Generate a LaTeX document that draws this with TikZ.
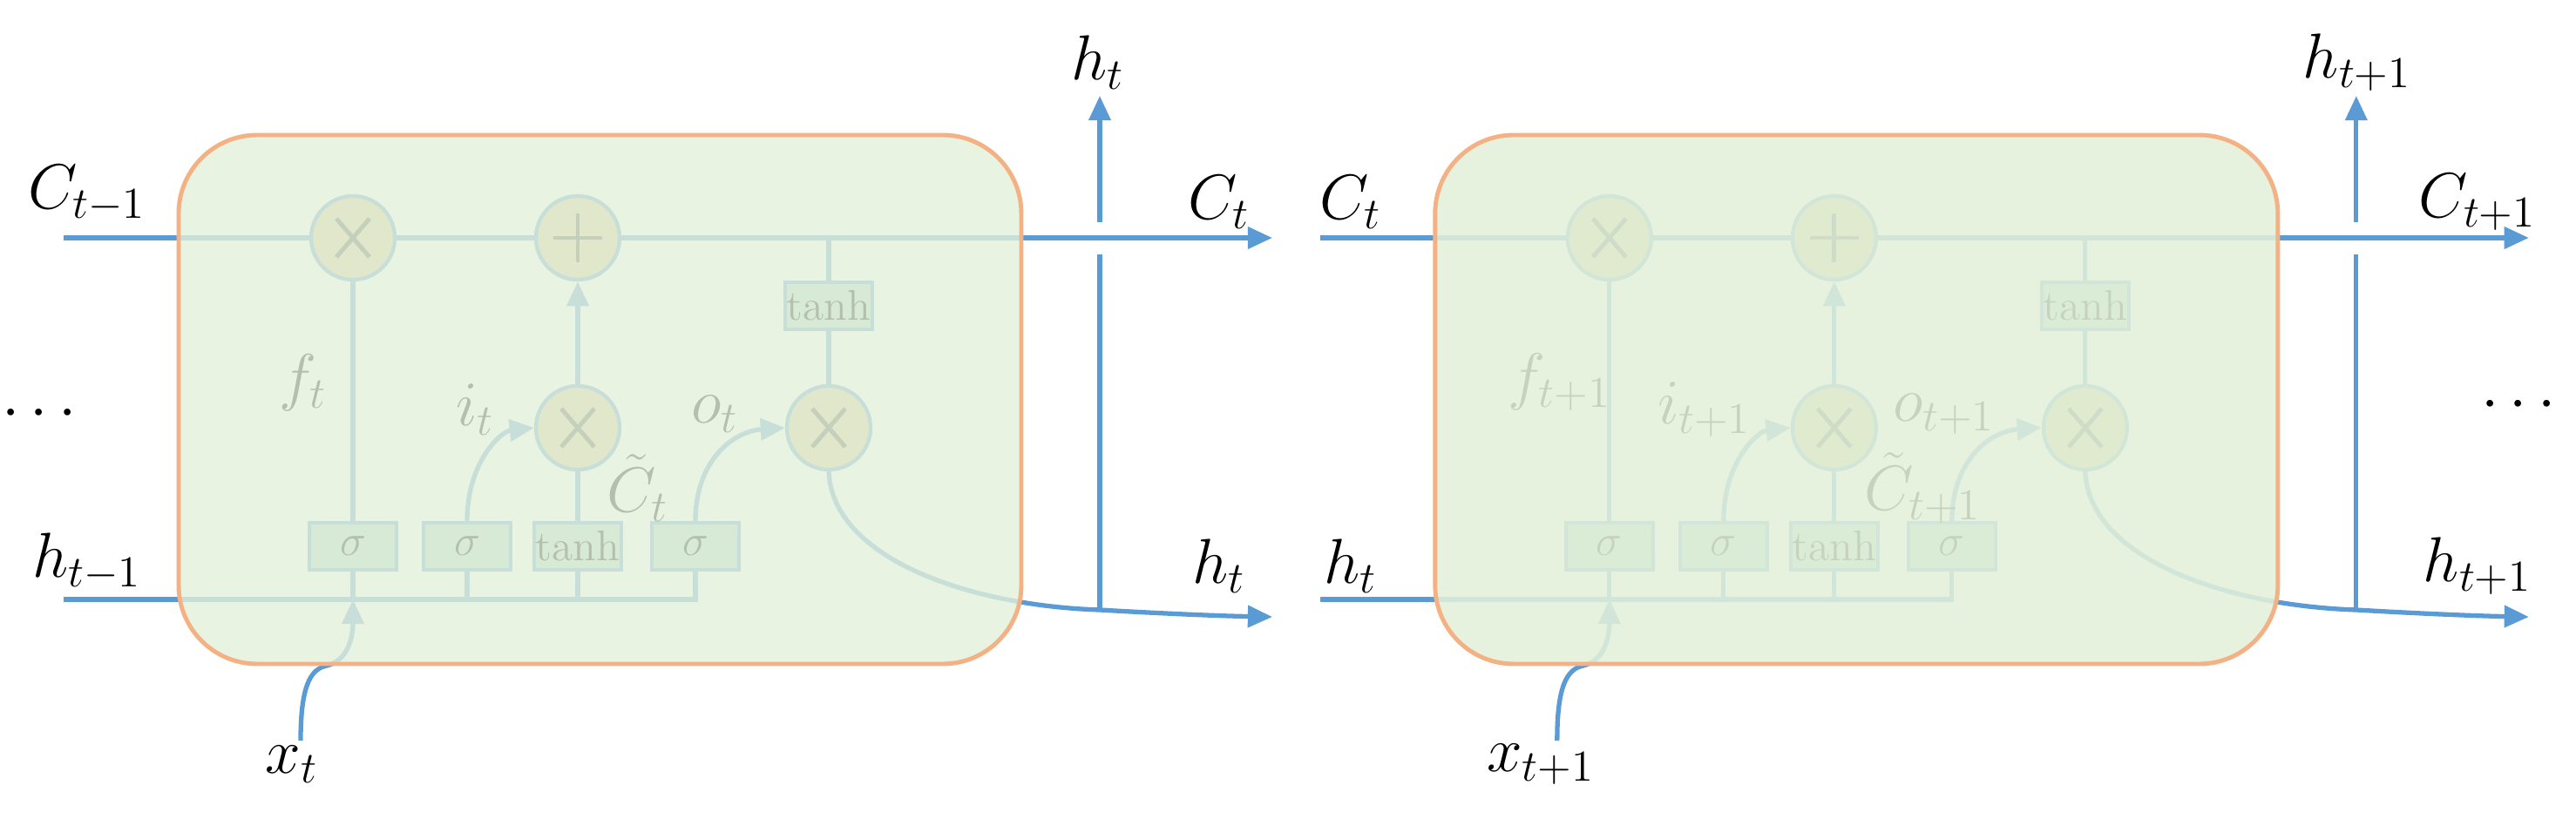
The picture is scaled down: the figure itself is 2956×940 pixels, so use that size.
\documentclass[tikz,border=0pt]{standalone}
\usetikzlibrary{arrows.meta}
\definecolor{lblue}{HTML}{5B9BD5}
\definecolor{lorange}{HTML}{F4B183}
\definecolor{lgreen}{HTML}{E2F0D9}
\definecolor{cfill}{HTML}{D8C48E}
\definecolor{bfill}{HTML}{A9D4C8}
\tikzset{
  bl/.style={draw=lblue,line width=1.5pt},
  arr/.style={-{Triangle[length=8pt,width=7pt]}},
  op/.style={circle,draw=lblue,line width=1.2pt,fill=cfill,minimum size=0.96cm,inner sep=0pt},
  gate/.style={rectangle,draw=lblue,line width=1.2pt,fill=bfill,minimum width=1cm,minimum height=0.54cm,inner sep=0pt,font=\fontsize{14}{16}\selectfont},
  lab/.style={font=\fontsize{22}{24}\selectfont},
  ilab/.style={font=\fontsize{21}{24}\selectfont},
}
% #1 shift, #2 opacity, #3 f, #4 i, #5 o, #6 Ctilde, #7 suffix, #8 ctilde x
\newcommand\lstmcell[8]{%
\begin{scope}[xshift=#1]
  \node[op] (m1#7) at (405,273) {};
  \node[op] (pl#7) at (663,273) {};
  \node[op] (m2#7) at (663,491) {};
  \node[op] (m3#7) at (951,491) {};
  \foreach \n in {m1#7,m2#7,m3#7} {\draw[black!70,line width=1.4pt] (\n.center)+(-19,-22)--+(19,22) (\n.center)+(-19,22)--+(19,-22);}
  \draw[black!70,line width=1.4pt] (pl#7.center)+(-28,0)--+(28,0) (pl#7.center)+(0,-28)--+(0,28);
  \node[gate] (th#7) at (951,351) {tanh};
  \node[gate] (s1#7) at (405,627) {$\sigma$};
  \node[gate] (s2#7) at (536,627) {$\sigma$};
  \node[gate] (t2#7) at (663,627) {tanh};
  \node[gate] (s3#7) at (798,627) {$\sigma$};
  \coordinate (cin#7) at (73,273);
  \coordinate (cout#7) at (1460,273);
  \coordinate (hin#7) at (73,688);
  \coordinate (hend#7) at (798,688);
  \coordinate (hout#7) at (1460,708);
  \coordinate (vb#7) at (1262,700);
  \coordinate (vg1#7) at (1262,292);
  \coordinate (vg2#7) at (1262,255);
  \coordinate (vt#7) at (1262,110);
  \coordinate (xs#7) at (345,850);
  \draw[bl] (cin#7)--(m1#7)--(pl#7);
  \draw[bl,arr] (pl#7)--(cout#7);
  \draw[bl] (hin#7)--(hend#7)--(s3#7);
  \draw[bl] (s1#7.south)--(s1#7.south|-hin#7) (s2#7.south)--(s2#7.south|-hin#7) (t2#7.south)--(t2#7.south|-hin#7);
  \draw[bl] (s1#7)--(m1#7);
  \draw[bl] (t2#7)--(m2#7);
  \draw[bl,arr] (m2#7)--(pl#7);
  \draw[bl] (th#7)--(th#7|-cin#7);
  \draw[bl] (th#7)--(m3#7);
  \draw[bl,arr] (s2#7.north) .. controls (536,530) and (575,495) .. (m2#7.west);
  \draw[bl,arr] (s3#7.north) .. controls (798,530) and (840,495) .. (m3#7.west);
  \draw[bl,arr] (xs#7) .. controls (345,790) and (355,768) .. (375,764) .. controls (400,758) and (405,730) .. (s1#7.south|-hin#7);
  \draw[bl,arr] (m3#7.south) .. controls (955,640) and (1110,695) .. (vb#7) .. controls (1330,704) and (1400,707) .. (hout#7);
  \draw[bl] (vb#7)--(vg1#7);
  \draw[bl,arr] (vg2#7)--(vt#7);
  \node[ilab] at (348,439) {$#3$};
  \node[ilab,anchor=east] at (580,470) {$#4$};
  \node[ilab,anchor=east] at (860,475) {$#5$};
  \node[ilab,anchor=west] at (#8,560) {$#6$};
  \fill[lgreen,opacity=#2,rounded corners=0.9cm] (205,155) rectangle (1172,762);
  \draw[lorange,line width=1.4pt,rounded corners=0.9cm] (205,155) rectangle (1172,762);
\end{scope}}
\begin{document}
\begin{tikzpicture}[x=0.01cm,y=-0.01cm]
\useasboundingbox (0,0) rectangle (2956,940);
\lstmcell{0cm}{0.8}{f_t}{i_t}{o_t}{\tilde C_t}{a}{684}
\lstmcell{14.41cm}{0.88}{f_{t+1}}{i_{t+1}}{o_{t+1}}{\tilde C_{t+1}}{b}{685}
\node[lab] (l1) at (100,222) {$C_{t-1}$};
\node[lab] (l2) at (100,645) {$h_{t-1}$};
\node[lab] (l3) at (45,475) {$\cdots$};
\node[lab] (l4) at (1260,72) {$h_t$};
\node[lab] (l5) at (1399,232) {$C_t$};
\node[lab] (l6) at (1399,650) {$h_t$};
\node[lab] (l7) at (335,877) {$x_t$};
\node[lab] (r1) at (1550,232) {$C_t$};
\node[lab] (r2) at (1550,650) {$h_t$};
\node[lab] (r3) at (2705,72) {$h_{t+1}$};
\node[lab] (r4) at (2843,232) {$C_{t+1}$};
\node[lab] (r5) at (2843,650) {$h_{t+1}$};
\node[lab] (r6) at (2890,465) {$\cdots$};
\node[lab] (r7) at (1768,877) {$x_{t+1}$};
\end{tikzpicture}
\end{document}
